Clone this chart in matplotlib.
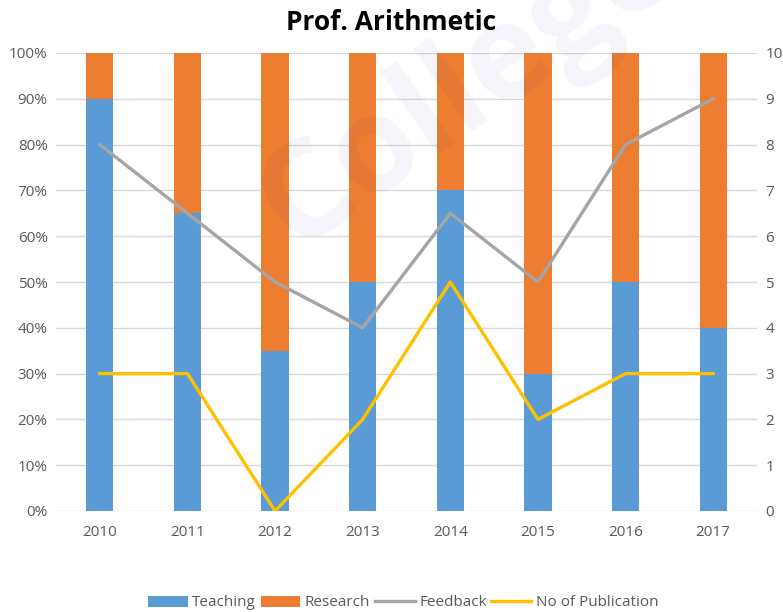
import matplotlib.pyplot as plt
import numpy as np

plt.rcParams['font.family'] = ['Liberation Sans Narrow', 'Open Sans', 'DejaVu Sans']

years = ['2010', '2011', '2012', '2013', '2014', '2015', '2016', '2017']
teaching = [90, 65, 35, 50, 70, 30, 50, 40]
research = [10, 35, 65, 50, 30, 70, 50, 60]
feedback = [8, 6.5, 5, 4, 6.5, 5, 8, 9]
publications = [3, 3, 0, 2, 5, 2, 3, 3]

c_teach = '#5B9BD5'
c_res = '#ED7D31'
c_fb = '#A5A5A5'
c_pub = '#FFC000'
tick_col = '#595959'

fig = plt.figure(figsize=(7.83, 6.12), dpi=100)
ax = fig.add_axes([56 / 783, 1 - 511 / 612, 701 / 783, 458 / 612])
x = np.arange(len(years))

ax.bar(x, teaching, width=0.31, color=c_teach, label='Teaching', zorder=2)
ax.bar(x, research, width=0.31, bottom=teaching, color=c_res, label='Research', zorder=2)
ax.set_ylim(0, 100)
ax.set_xlim(-0.5, len(years) - 0.5)
ax.set_yticks(np.arange(0, 101, 10))
ax.set_yticklabels(['%d%%' % v for v in range(0, 101, 10)])
ax.set_xticks(x)
ax.set_xticklabels(years)
ax.grid(axis='y', color='#D9D9D9', linewidth=1, zorder=0)
ax.set_axisbelow(True)
for s in ax.spines.values():
    s.set_visible(False)
ax.tick_params(length=0, labelsize=11, colors=tick_col, pad=6)
ax.tick_params(axis='x', pad=10)

ax2 = ax.twinx()
ax2.plot(x, feedback, color=c_fb, linewidth=2.4, label='Feedback', zorder=3)
ax2.plot(x, publications, color=c_pub, linewidth=2.4, label='No of Publication', zorder=3)
ax2.set_ylim(0, 10)
ax2.set_yticks(range(0, 11))
for s in ax2.spines.values():
    s.set_visible(False)
ax2.tick_params(length=0, labelsize=11, colors=tick_col, pad=6)

fig.text(0.5, 1 - 22 / 612, 'Prof. Arithmetic', ha='center', va='center',
         fontsize=19, fontweight='bold', color='black')

# faint watermark
fig.text(0.60, 0.86, 'College', ha='center', va='center', fontsize=95,
         fontweight='bold', rotation=35, color='#3A3AB0', alpha=0.05)

h1, l1 = ax.get_legend_handles_labels()
h2, l2 = ax2.get_legend_handles_labels()
fig.legend(h1 + h2, l1 + l2, loc='center', bbox_to_anchor=(403 / 783, 1 - 603 / 612),
           ncol=4, frameon=False, fontsize=11, handlelength=2.6, handleheight=0.7,
           columnspacing=0.3, handletextpad=0.3, labelcolor=tick_col)

fig.savefig('out.png', dpi=100)
